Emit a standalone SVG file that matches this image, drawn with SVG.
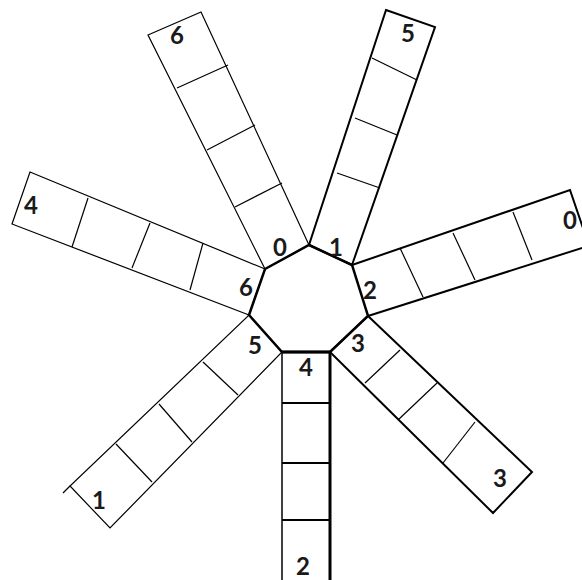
<svg xmlns="http://www.w3.org/2000/svg" width="582" height="580" viewBox="0 0 582 580">
<style>
.thin{fill:none;stroke:#000;stroke-width:1.2;stroke-linejoin:miter}
.mid{fill:none;stroke:#000;stroke-width:2;stroke-linejoin:miter}
.thick{fill:none;stroke:#000;stroke-width:3}
.lbl{font-family:Lato,"Liberation Sans",sans-serif;font-weight:bold;font-size:24px;fill:#1a1a1a;text-anchor:middle}
</style>
<rect width="582" height="580" fill="#fff"/>
<g id="arm-top-left">
<polygon class="thin" points="148,35 201,12 309,245 265,269"/>
<line class="thin" x1="177" y1="88" x2="228" y2="65"/>
<line class="thin" x1="207" y1="150" x2="255" y2="125"/>
<line class="thin" x1="235" y1="207" x2="282" y2="183"/>
<text class="lbl" x="177" y="44">6</text>
</g>
<g id="arm-top-right">
<polygon class="mid" points="386,10 435,27 352,265 309,245"/>
<line class="thin" x1="372" y1="58" x2="417" y2="80"/>
<line class="thin" x1="355" y1="118" x2="397" y2="135"/>
<line class="thin" x1="337" y1="173" x2="380" y2="188"/>
<text class="lbl" x="408" y="42">5</text>
</g>
<g id="arm-right">
<polyline class="mid" points="352,265 570,190 585,234"/>
<line class="mid" x1="368" y1="316" x2="585" y2="247"/>
<line class="thin" x1="400" y1="248" x2="423" y2="297"/>
<line class="thin" x1="453" y1="233" x2="475" y2="280"/>
<line class="thin" x1="513" y1="212" x2="532" y2="260"/>
<text class="lbl" x="570" y="229">0</text>
</g>
<g id="arm-bottom-right">
<polygon class="mid" points="368,316 532,472 493,513 330,352"/>
<line class="thin" x1="400" y1="350" x2="365" y2="383"/>
<line class="thin" x1="437" y1="383" x2="398" y2="420"/>
<line class="thin" x1="475" y1="422" x2="443" y2="463"/>
<text class="lbl" x="500" y="487">3</text>
</g>
<g id="arm-bottom">
<line class="thin" x1="282" y1="352" x2="282" y2="580" style="stroke-width:1.5"/>
<line class="thick" x1="330" y1="352" x2="330" y2="580"/>
<line class="mid" x1="282" y1="403" x2="330" y2="403"/>
<line class="mid" x1="282" y1="463" x2="330" y2="463"/>
<line class="mid" x1="282" y1="520" x2="330" y2="520"/>
<text class="lbl" x="303" y="575">2</text>
</g>
<g id="arm-bottom-left">
<polygon class="thin" points="249,315 282,352 110,528 70,486"/>
<line class="thin" x1="70" y1="486" x2="63" y2="493"/>
<line class="thin" x1="203" y1="362" x2="238" y2="395"/>
<line class="thin" x1="159" y1="404" x2="192" y2="442"/>
<line class="thin" x1="116" y1="444" x2="152" y2="482"/>
<text class="lbl" x="99" y="509">1</text>
</g>
<g id="arm-left">
<polygon class="thin" points="30,172 265,269 249,315 12,224"/>
<line class="thin" x1="88" y1="198" x2="72" y2="247"/>
<line class="thin" x1="150" y1="223" x2="132" y2="268"/>
<line class="thin" x1="203" y1="243" x2="190" y2="290"/>
<text class="lbl" x="31" y="214">4</text>
</g>
<g id="heptagon">
<polygon class="mid" points="309,245 352,265 368,316 330,352 282,352 249,315 265,269" style="stroke-width:2.5"/>
<line class="thick" x1="282" y1="352" x2="330" y2="352"/>
<text class="lbl" x="280" y="256">0</text>
<text class="lbl" x="336" y="256">1</text>
<text class="lbl" x="370" y="299">2</text>
<text class="lbl" x="358" y="352">3</text>
<text class="lbl" x="306" y="376">4</text>
<text class="lbl" x="255" y="354">5</text>
<text class="lbl" x="246" y="296">6</text>
</g>
<g id="connectors"/>
</svg>
